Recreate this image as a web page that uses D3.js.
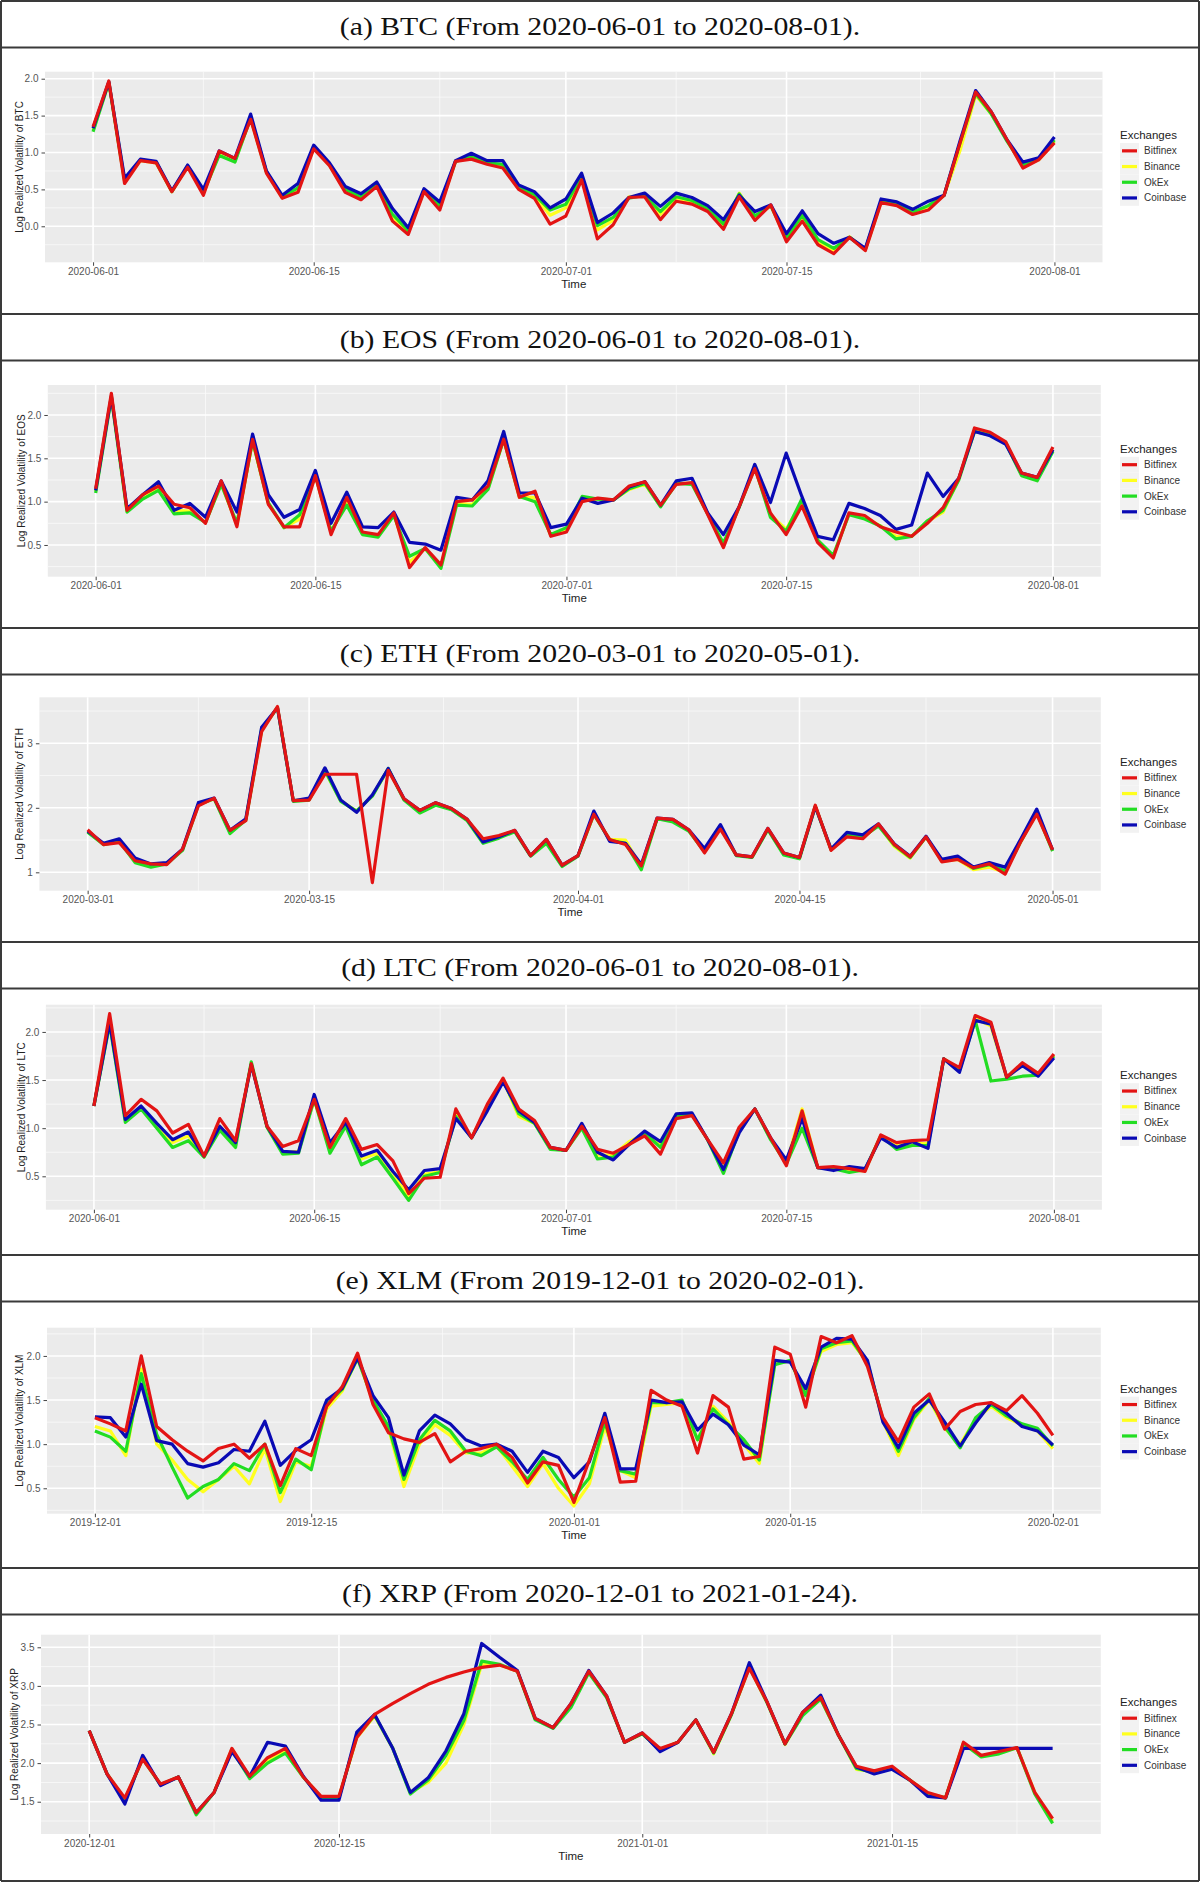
<!DOCTYPE html>
<html>
<head>
<meta charset="utf-8">
<script src="https://cdn.jsdelivr.net/npm/d3@7/dist/d3.min.js"></script>
<style>
  html, body { margin: 0; padding: 0; background: #fff; }
  svg { display: block; }
</style>
</head>
<body>
<div id="chart"></div>
<script>
// exchanges, legend order
var exchanges = ['Bitfinex', 'Binance', 'OkEx', 'Coinbase']
var exchangeColors = ['#e31414', '#ffff1e', '#22dd22', '#0a0ab4']
// red is painted last, on top
var drawOrder = [1, 2, 3, 0]

var coins = ['BTC', 'EOS', 'ETH', 'LTC', 'XLM', 'XRP']
var panelTitles = [
  '(a) BTC (From 2020-06-01 to 2020-08-01).',
  '(b) EOS (From 2020-06-01 to 2020-08-01).',
  '(c) ETH (From 2020-03-01 to 2020-05-01).',
  '(d) LTC (From 2020-06-01 to 2020-08-01).',
  '(e) XLM (From 2019-12-01 to 2020-02-01).',
  '(f) XRP (From 2020-12-01 to 2021-01-24).'
]
var startDates = ['2020-06-01', '2020-06-01', '2020-03-01', '2020-06-01', '2019-12-01', '2020-12-01']

// date breaks (last one of XRP only feeds the minor grid)
var xBreaks = [
  ['2020-06-01', '2020-06-15', '2020-07-01', '2020-07-15', '2020-08-01'],
  ['2020-06-01', '2020-06-15', '2020-07-01', '2020-07-15', '2020-08-01'],
  ['2020-03-01', '2020-03-15', '2020-04-01', '2020-04-15', '2020-05-01'],
  ['2020-06-01', '2020-06-15', '2020-07-01', '2020-07-15', '2020-08-01'],
  ['2019-12-01', '2019-12-15', '2020-01-01', '2020-01-15', '2020-02-01'],
  ['2020-12-01', '2020-12-15', '2021-01-01', '2021-01-15', '2021-01-29']
]
var yBreaks = [
  [0, 0.5, 1, 1.5, 2],
  [0.5, 1, 1.5, 2],
  [1, 2, 3],
  [0.5, 1, 1.5, 2],
  [0.5, 1, 1.5, 2],
  [1.5, 2, 2.5, 3, 3.5]
]
var yFormats = ['.1f', '.1f', 'd', '.1f', '.1f', '.1f']
var yDomains = [
  [-0.488, 2.095],
  [0.134, 2.346],
  [0.715, 3.713],
  [0.153, 2.283],
  [0.212, 2.32],
  [1.082, 3.663]
]

// ---- BTC ----
var btcBitfinex = [1.35,1.97,0.58,0.89,0.86,0.47,0.80,0.42,1.02,0.92,1.45,0.72,0.38,0.46,1.05,0.82,0.46,0.36,0.54,0.07,-0.11,0.47,0.22,0.88,0.91,0.84,0.79,0.50,0.38,0.03,0.14,0.63,-0.17,0.02,0.39,0.40,0.09,0.34,0.30,0.20,-0.04,0.40,0.08,0.29,-0.21,0.07,-0.25,-0.37,-0.15,-0.33,0.32,0.28,0.16,0.22,0.42,1.12,1.82,1.55,1.17,0.79,0.90,1.13]
var btcBinance = [1.30,1.95,0.61,0.89,0.86,0.47,0.81,0.45,0.98,0.89,1.46,0.73,0.39,0.50,1.06,0.83,0.48,0.38,0.56,0.12,-0.08,0.48,0.25,0.88,0.93,0.85,0.82,0.52,0.41,0.15,0.25,0.66,-0.05,0.08,0.40,0.42,0.16,0.38,0.33,0.23,0.00,0.45,0.12,0.28,-0.18,0.12,-0.22,-0.33,-0.14,-0.32,0.33,0.29,0.18,0.25,0.42,1.02,1.78,1.52,1.16,0.81,0.90,1.15]
var btcOkex = [1.28,1.95,0.62,0.90,0.87,0.47,0.82,0.46,0.96,0.87,1.47,0.74,0.40,0.52,1.07,0.84,0.50,0.40,0.57,0.16,-0.06,0.49,0.28,0.88,0.95,0.86,0.84,0.53,0.43,0.22,0.30,0.68,0.01,0.12,0.38,0.42,0.20,0.40,0.35,0.24,0.03,0.44,0.14,0.28,-0.16,0.15,-0.18,-0.30,-0.15,-0.31,0.34,0.30,0.19,0.28,0.42,1.12,1.80,1.52,1.15,0.83,0.91,1.17]
var btcCoinbase = [1.33,1.96,0.65,0.91,0.88,0.48,0.83,0.50,1.02,0.92,1.52,0.75,0.42,0.58,1.10,0.86,0.54,0.44,0.60,0.24,-0.02,0.51,0.33,0.89,0.99,0.89,0.89,0.56,0.47,0.25,0.37,0.72,0.05,0.18,0.39,0.45,0.27,0.45,0.39,0.28,0.09,0.42,0.20,0.29,-0.10,0.21,-0.10,-0.23,-0.15,-0.30,0.37,0.33,0.23,0.34,0.42,1.15,1.84,1.55,1.17,0.87,0.93,1.21]

// ---- EOS ----
var eosBitfinex = [1.15,2.25,0.90,1.08,1.18,0.97,0.93,0.75,1.24,0.71,1.72,0.97,0.71,0.71,1.30,0.62,1.05,0.65,0.62,0.87,0.24,0.47,0.27,1.00,1.02,1.18,1.72,1.05,1.12,0.60,0.65,1.00,1.04,1.02,1.18,1.23,0.96,1.20,1.22,0.85,0.47,0.94,1.38,0.87,0.62,0.95,0.53,0.35,0.87,0.84,0.71,0.65,0.60,0.75,0.93,1.27,1.85,1.80,1.69,1.33,1.28,1.63]
var eosBinance = [1.12,2.22,0.89,1.05,1.15,0.90,0.89,0.76,1.21,0.73,1.70,0.98,0.70,0.80,1.30,0.65,1.00,0.63,0.60,0.85,0.30,0.46,0.25,0.98,0.97,1.15,1.72,1.05,1.05,0.61,0.68,1.03,1.03,1.02,1.14,1.20,0.95,1.21,1.21,0.86,0.50,0.94,1.39,0.85,0.68,1.00,0.55,0.37,0.86,0.82,0.72,0.60,0.60,0.77,0.88,1.26,1.82,1.78,1.68,1.31,1.26,1.60]
var eosOkex = [1.10,2.20,0.88,1.03,1.13,0.86,0.87,0.76,1.20,0.75,1.70,0.99,0.70,0.85,1.30,0.66,0.96,0.62,0.59,0.84,0.37,0.46,0.23,0.96,0.95,1.14,1.72,1.06,1.00,0.62,0.70,1.06,1.03,1.02,1.15,1.21,0.94,1.21,1.20,0.86,0.52,0.93,1.40,0.82,0.66,1.03,0.56,0.38,0.85,0.80,0.72,0.57,0.60,0.78,0.90,1.25,1.81,1.77,1.67,1.30,1.24,1.58]
var eosCoinbase = [1.13,2.22,0.92,1.08,1.23,0.90,0.98,0.82,1.24,0.88,1.78,1.08,0.82,0.91,1.36,0.75,1.11,0.71,0.70,0.88,0.53,0.51,0.44,1.05,1.02,1.24,1.81,1.10,1.10,0.70,0.74,1.04,0.98,1.02,1.17,1.23,0.96,1.24,1.27,0.87,0.62,0.94,1.43,0.99,1.56,1.06,0.60,0.56,0.98,0.92,0.84,0.68,0.73,1.33,1.06,1.27,1.81,1.76,1.66,1.33,1.28,1.60]

// ---- ETH ----
var ethBitfinex = [1.66,1.43,1.46,1.18,1.13,1.12,1.36,2.03,2.15,1.65,1.80,3.18,3.57,2.11,2.12,2.52,2.52,2.52,0.84,2.58,2.14,1.96,2.08,1.99,1.82,1.52,1.57,1.65,1.26,1.51,1.11,1.26,1.90,1.51,1.43,1.10,1.84,1.82,1.66,1.30,1.67,1.27,1.24,1.68,1.30,1.23,2.04,1.34,1.55,1.52,1.75,1.43,1.24,1.55,1.16,1.20,1.07,1.13,0.97,1.48,1.90,1.35]
var ethBinance = [1.63,1.44,1.49,1.17,1.10,1.14,1.35,2.05,2.14,1.62,1.81,3.20,3.56,2.11,2.13,2.57,2.11,1.95,2.19,2.60,2.13,1.94,2.05,1.98,1.81,1.48,1.55,1.64,1.26,1.48,1.10,1.26,1.90,1.51,1.50,1.08,1.83,1.80,1.65,1.32,1.70,1.27,1.23,1.67,1.28,1.22,2.03,1.35,1.57,1.54,1.73,1.40,1.22,1.55,1.17,1.20,1.04,1.08,1.00,1.48,1.92,1.34]
var ethOkex = [1.62,1.43,1.48,1.15,1.08,1.13,1.34,2.05,2.14,1.60,1.81,3.22,3.55,2.10,2.12,2.58,2.10,1.95,2.18,2.61,2.12,1.92,2.04,1.97,1.80,1.45,1.53,1.63,1.25,1.45,1.09,1.25,1.90,1.50,1.45,1.04,1.83,1.78,1.64,1.32,1.70,1.26,1.23,1.66,1.27,1.21,2.02,1.35,1.58,1.55,1.72,1.42,1.23,1.55,1.18,1.22,1.06,1.12,1.02,1.48,1.93,1.33]
var ethCoinbase = [1.64,1.45,1.52,1.22,1.13,1.15,1.36,2.08,2.15,1.65,1.83,3.25,3.55,2.11,2.15,2.62,2.12,1.93,2.20,2.61,2.14,1.96,2.08,1.99,1.82,1.47,1.55,1.65,1.26,1.51,1.11,1.26,1.95,1.48,1.45,1.12,1.84,1.82,1.66,1.37,1.74,1.27,1.24,1.68,1.30,1.23,2.02,1.36,1.62,1.58,1.75,1.44,1.25,1.56,1.20,1.25,1.08,1.15,1.08,1.52,1.98,1.35]

// ---- LTC ----
var ltcBitfinex = [1.23,2.19,1.13,1.30,1.18,0.95,1.04,0.71,1.10,0.87,1.67,1.02,0.81,0.87,1.30,0.80,1.10,0.78,0.83,0.66,0.32,0.48,0.49,1.20,0.90,1.25,1.52,1.20,1.08,0.80,0.77,1.02,0.78,0.74,0.83,0.92,0.73,1.10,1.13,0.88,0.64,1.01,1.20,0.90,0.61,1.18,0.59,0.60,0.58,0.55,0.93,0.85,0.87,0.88,1.72,1.63,2.17,2.10,1.53,1.68,1.57,1.77]
var ltcBinance = [1.23,2.10,1.08,1.22,1.04,0.85,0.92,0.70,1.02,0.83,1.67,1.01,0.75,0.76,1.30,0.77,1.04,0.68,0.74,0.54,0.28,0.52,0.55,1.14,0.90,1.22,1.50,1.12,1.05,0.79,0.77,1.02,0.72,0.72,0.86,0.94,0.82,1.12,1.14,0.88,0.58,0.98,1.20,0.89,0.64,1.20,0.59,0.59,0.56,0.56,0.92,0.82,0.84,0.84,1.72,1.61,2.14,2.06,1.52,1.66,1.56,1.76]
var ltcOkex = [1.23,2.08,1.06,1.20,1.00,0.80,0.87,0.70,0.98,0.80,1.69,1.01,0.73,0.74,1.30,0.74,1.02,0.62,0.70,0.48,0.25,0.50,0.54,1.12,0.90,1.20,1.50,1.15,1.05,0.78,0.77,1.00,0.68,0.70,0.83,0.95,0.80,1.12,1.14,0.88,0.53,0.97,1.20,0.88,0.63,1.00,0.59,0.58,0.54,0.57,0.92,0.78,0.82,0.82,1.72,1.60,2.12,1.49,1.51,1.54,1.55,1.75]
var ltcCoinbase = [1.23,2.10,1.09,1.23,1.05,0.88,0.96,0.71,1.02,0.85,1.66,1.02,0.76,0.75,1.35,0.85,1.06,0.71,0.77,0.55,0.36,0.56,0.58,1.10,0.90,1.18,1.48,1.18,1.06,0.80,0.77,1.05,0.75,0.67,0.83,0.97,0.86,1.15,1.16,0.88,0.57,0.95,1.20,0.90,0.67,1.10,0.59,0.56,0.60,0.58,0.90,0.80,0.86,0.79,1.72,1.58,2.12,2.08,1.53,1.65,1.54,1.73]

// ---- XLM ----
var xlmBitfinex = [1.30,1.23,1.15,2.00,1.20,1.05,0.92,0.81,0.95,1.00,0.84,1.00,0.53,0.95,0.87,1.43,1.65,2.03,1.45,1.13,1.06,1.02,1.12,0.80,0.92,0.95,1.00,0.85,0.56,0.80,0.76,0.34,0.82,1.30,0.57,0.58,1.61,1.50,1.43,0.90,1.55,1.42,0.83,0.86,2.10,2.02,1.42,2.22,2.15,2.23,1.88,1.30,1.03,1.42,1.57,1.17,1.37,1.45,1.47,1.38,1.55,1.35,1.10]
var xlmBinance = [1.20,1.15,0.87,1.85,1.00,0.82,0.60,0.46,0.60,0.75,0.55,0.95,0.35,0.80,0.75,1.40,1.60,1.98,1.48,1.18,0.52,1.00,1.22,1.10,0.90,0.90,0.98,0.75,0.52,0.78,0.50,0.30,0.55,1.20,0.70,0.62,1.43,1.45,1.47,1.05,1.43,1.25,1.00,0.78,1.92,1.94,1.58,2.05,2.13,2.15,1.93,1.26,0.87,1.28,1.50,1.18,1.00,1.28,1.43,1.30,1.22,1.15,0.95]
var xlmOkex = [1.15,1.08,0.92,1.80,1.11,0.74,0.39,0.52,0.60,0.78,0.70,1.00,0.45,0.83,0.71,1.45,1.62,1.97,1.50,1.20,0.60,1.05,1.27,1.15,0.92,0.87,0.97,0.80,0.60,0.85,0.60,0.40,0.62,1.25,0.70,0.66,1.47,1.47,1.50,1.05,1.40,1.22,1.05,0.82,1.90,1.95,1.55,2.08,2.15,2.17,1.92,1.28,0.92,1.30,1.52,1.20,0.96,1.30,1.45,1.32,1.23,1.18,0.98]
var xlmCoinbase = [1.31,1.30,1.08,1.68,1.04,1.00,0.78,0.74,0.79,0.94,0.92,1.26,0.76,0.93,1.05,1.50,1.63,1.98,1.55,1.30,0.65,1.15,1.33,1.23,1.05,0.98,1.00,0.92,0.68,0.92,0.85,0.62,0.80,1.35,0.72,0.72,1.50,1.47,1.48,1.16,1.34,1.22,0.99,0.88,1.95,1.93,1.63,2.10,2.20,2.19,1.95,1.25,0.96,1.35,1.50,1.25,0.98,1.24,1.47,1.35,1.20,1.15,0.99]

// ---- XRP ----
var xrpBitfinex = [2.42,1.86,1.55,2.05,1.73,1.82,1.36,1.62,2.19,1.83,2.07,2.19,1.82,1.57,1.57,2.33,2.63,2.77,2.90,3.02,3.11,3.18,3.24,3.27,3.19,2.58,2.46,2.77,3.19,2.87,2.27,2.39,2.19,2.27,2.56,2.14,2.64,3.23,2.79,2.25,2.66,2.85,2.36,1.96,1.90,1.96,1.78,1.62,1.55,2.27,2.10,2.15,2.20,1.62,1.28]
var xrpBinance = [2.42,1.86,1.53,2.06,1.72,1.82,1.35,1.62,2.18,1.82,2.04,2.16,1.82,1.56,1.56,2.33,2.61,2.20,1.62,1.75,2.00,2.50,3.28,3.27,3.19,2.57,2.46,2.74,3.18,2.86,2.27,2.38,2.18,2.27,2.56,2.12,2.63,3.24,2.78,2.24,2.64,2.84,2.36,1.92,1.89,1.95,1.78,1.61,1.55,2.26,2.09,2.13,2.20,1.62,1.25]
var xrpOkex = [2.42,1.86,1.52,2.06,1.72,1.82,1.33,1.62,2.17,1.80,2.00,2.13,1.82,1.55,1.55,2.35,2.62,2.20,1.60,1.78,2.10,2.55,3.32,3.28,3.19,2.56,2.45,2.72,3.17,2.85,2.27,2.38,2.17,2.27,2.56,2.13,2.63,3.25,2.78,2.25,2.62,2.83,2.36,1.93,1.88,1.94,1.78,1.60,1.55,2.25,2.08,2.12,2.20,1.60,1.22]
var xrpCoinbase = [2.42,1.86,1.47,2.10,1.71,1.82,1.36,1.62,2.15,1.83,2.27,2.22,1.83,1.52,1.52,2.40,2.63,2.20,1.62,1.81,2.16,2.64,3.55,3.37,3.20,2.58,2.46,2.77,3.20,2.87,2.27,2.39,2.15,2.27,2.56,2.14,2.64,3.30,2.79,2.25,2.66,2.88,2.36,1.95,1.86,1.92,1.78,1.57,1.55,2.19,2.19,2.19,2.19,2.19,2.19]

var panelSeries = [
  [btcBitfinex, btcBinance, btcOkex, btcCoinbase],
  [eosBitfinex, eosBinance, eosOkex, eosCoinbase],
  [ethBitfinex, ethBinance, ethOkex, ethCoinbase],
  [ltcBitfinex, ltcBinance, ltcOkex, ltcCoinbase],
  [xlmBitfinex, xlmBinance, xlmOkex, xlmCoinbase],
  [xrpBitfinex, xrpBinance, xrpOkex, xrpCoinbase]
]

// layout of the pasted figure (title row + plot row per coin)
var rowTops = [1, 314, 628, 942, 1255, 1568]
var titleRowH = 46.5
var plotBoxes = [
  {x0: 45,   x1: 1102.5, y0: 71.7,   y1: 262.3,  yt: 19},
  {x0: 47.8, x1: 1100.8, y0: 385,    y1: 576.7,  yt: 21},
  {x0: 39.4, x1: 1100.8, y0: 697.3,  y1: 890.7,  yt: 19},
  {x0: 45.9, x1: 1101.9, y0: 1004.7, y1: 1209.7, yt: 21},
  {x0: 47,   x1: 1100.8, y0: 1327.7, y1: 1513.7, yt: 19},
  {x0: 41,   x1: 1100.8, y0: 1634.7, y1: 1834,   yt: 14}
]

var W = 1200, H = 1883
var parseDay = d3.utcParse('%Y-%m-%d')
var fmtDay = d3.utcFormat('%Y-%m-%d')

var svg = d3.select('#chart').append('svg')
  .attr('width', W)
  .attr('height', H)
  .style('font-family', '"Liberation Sans", Arial, Helvetica, sans-serif')

svg.append('rect').attr('width', W).attr('height', H).attr('fill', '#fff')

panelSeries.forEach(function(series, i){
  var box = plotBoxes[i]
  var top = rowTops[i]

  // title row
  svg.append('text')
    .attr('transform', 'translate(600,' + (top + 34) + ') scale(1.19,1)')
    .attr('text-anchor', 'middle')
    .style('font-family', '"Liberation Serif", "Times New Roman", serif')
    .style('font-size', '25px')
    .attr('fill', '#111')
    .text(panelTitles[i])

  var start = parseDay(startDates[i])
  var n = series[0].length
  var dates = d3.range(n).map(function(k){ return d3.utcDay.offset(start, k) })
  var span = dates[n - 1] - dates[0]

  // ggplot style 5% expansion on the date axis
  var x = d3.scaleUtc()
    .domain([new Date(+dates[0] - span * 0.05), new Date(+dates[n - 1] + span * 0.05)])
    .range([box.x0, box.x1])
  var y = d3.scaleLinear()
    .domain(yDomains[i])
    .range([box.y1, box.y0])

  var g = svg.append('g')

  g.append('rect')
    .attr('x', box.x0).attr('y', box.y0)
    .attr('width', box.x1 - box.x0).attr('height', box.y1 - box.y0)
    .attr('fill', '#ebebeb')

  var breaks = xBreaks[i].map(parseDay)
  var xd = x.domain()
  var xMajor = breaks.filter(function(d){ return d >= xd[0] && d <= xd[1] })
  var xMinor = []
  for (var k = 0; k < breaks.length - 1; k++) {
    var mid = new Date((+breaks[k] + +breaks[k + 1]) / 2)
    if (mid >= xd[0] && mid <= xd[1]) xMinor.push(mid)
  }

  var yb = yBreaks[i]
  var step = yb[1] - yb[0]
  var yMinor = yb.map(function(v){ return v - step / 2 }).concat([yb[yb.length - 1] + step / 2])
    .filter(function(v){ return v >= yDomains[i][0] && v <= yDomains[i][1] })

  // minor grid
  g.selectAll('.hminor').data(yMinor).enter().append('line')
    .attr('x1', box.x0).attr('x2', box.x1)
    .attr('y1', function(d){ return y(d) }).attr('y2', function(d){ return y(d) })
    .attr('stroke', '#fafafa').attr('stroke-width', 0.8)
  g.selectAll('.vminor').data(xMinor).enter().append('line')
    .attr('y1', box.y0).attr('y2', box.y1)
    .attr('x1', function(d){ return x(d) }).attr('x2', function(d){ return x(d) })
    .attr('stroke', '#fafafa').attr('stroke-width', 0.8)

  // major grid
  g.selectAll('.hmajor').data(yb).enter().append('line')
    .attr('x1', box.x0).attr('x2', box.x1)
    .attr('y1', function(d){ return y(d) }).attr('y2', function(d){ return y(d) })
    .attr('stroke', '#fff').attr('stroke-width', 1.6)
  g.selectAll('.vmajor').data(xMajor).enter().append('line')
    .attr('y1', box.y0).attr('y2', box.y1)
    .attr('x1', function(d){ return x(d) }).attr('x2', function(d){ return x(d) })
    .attr('stroke', '#fff').attr('stroke-width', 1.6)

  // series
  var line = d3.line()
    .x(function(d){ return x(d.date) })
    .y(function(d){ return y(d.v) })

  drawOrder.forEach(function(s){
    var pts = series[s].map(function(v, k){ return {date: dates[k], v: v} })
    g.append('path')
      .datum(pts)
      .attr('d', line)
      .attr('fill', 'none')
      .attr('stroke', exchangeColors[s])
      .attr('stroke-width', 3.2)
      .attr('stroke-linejoin', 'round')
  })

  // axes
  var xAxis = d3.axisBottom(x)
    .tickValues(xMajor)
    .tickFormat(fmtDay)
    .tickSize(3.5)
    .tickPadding(2)
  var yAxis = d3.axisLeft(y)
    .tickValues(yb)
    .tickFormat(d3.format(yFormats[i]))
    .tickSize(3.5)
    .tickPadding(3)

  var gx = g.append('g').attr('transform', 'translate(0,' + box.y1 + ')').call(xAxis)
  var gy = g.append('g').attr('transform', 'translate(' + box.x0 + ',0)').call(yAxis)
  ;[gx, gy].forEach(function(ax){
    ax.select('.domain').remove()
    ax.selectAll('.tick line').attr('stroke', '#444')
    ax.selectAll('.tick text')
      .attr('fill', '#555')
      .style('font-size', '10px')
      .style('font-family', '"Liberation Sans", Arial, sans-serif')
  })

  // axis titles
  g.append('text')
    .attr('x', (box.x0 + box.x1) / 2)
    .attr('y', box.y1 + 25.5)
    .attr('text-anchor', 'middle')
    .style('font-size', '11.5px')
    .attr('fill', '#222')
    .text('Time')

  g.append('text')
    .attr('transform', 'translate(' + (box.yt + 3.5) + ',' + ((box.y0 + box.y1) / 2) + ') rotate(-90)')
    .attr('text-anchor', 'middle')
    .style('font-size', '10px')
    .attr('fill', '#222')
    .text('Log Realized Volatility of ' + coins[i])

  // legend
  var cy = (box.y0 + box.y1) / 2
  var lg = g.append('g').attr('transform', 'translate(1120,' + (cy - 24) + ')')
  lg.append('text')
    .attr('x', 0).attr('y', -4)
    .style('font-size', '11.5px')
    .attr('fill', '#222')
    .text('Exchanges')
  exchanges.forEach(function(name, j){
    lg.append('rect')
      .attr('x', 0).attr('y', j * 15.7)
      .attr('width', 19).attr('height', 15.7)
      .attr('fill', '#f2f2f2')
    lg.append('line')
      .attr('x1', 2).attr('x2', 17)
      .attr('y1', j * 15.7 + 7.85).attr('y2', j * 15.7 + 7.85)
      .attr('stroke', exchangeColors[j])
      .attr('stroke-width', 3.2)
    lg.append('text')
      .attr('x', 24).attr('y', j * 15.7 + 11.3)
      .style('font-size', '10px')
      .attr('fill', '#333')
      .text(name)
  })
})

// frame: outer box and row separators
var frameY = []
rowTops.forEach(function(t){ frameY.push(t, t + titleRowH) })
frameY.push(H - 2)

svg.selectAll('.hframe').data(frameY).enter().append('line')
  .attr('x1', 1).attr('x2', W - 1)
  .attr('y1', function(d){ return d }).attr('y2', function(d){ return d })
  .attr('stroke', '#3a3a3a').attr('stroke-width', 2)

svg.selectAll('.vframe').data([1, W - 1]).enter().append('line')
  .attr('y1', 1).attr('y2', H - 2)
  .attr('x1', function(d){ return d }).attr('x2', function(d){ return d })
  .attr('stroke', '#3a3a3a').attr('stroke-width', 2)
</script>
</body>
</html>
